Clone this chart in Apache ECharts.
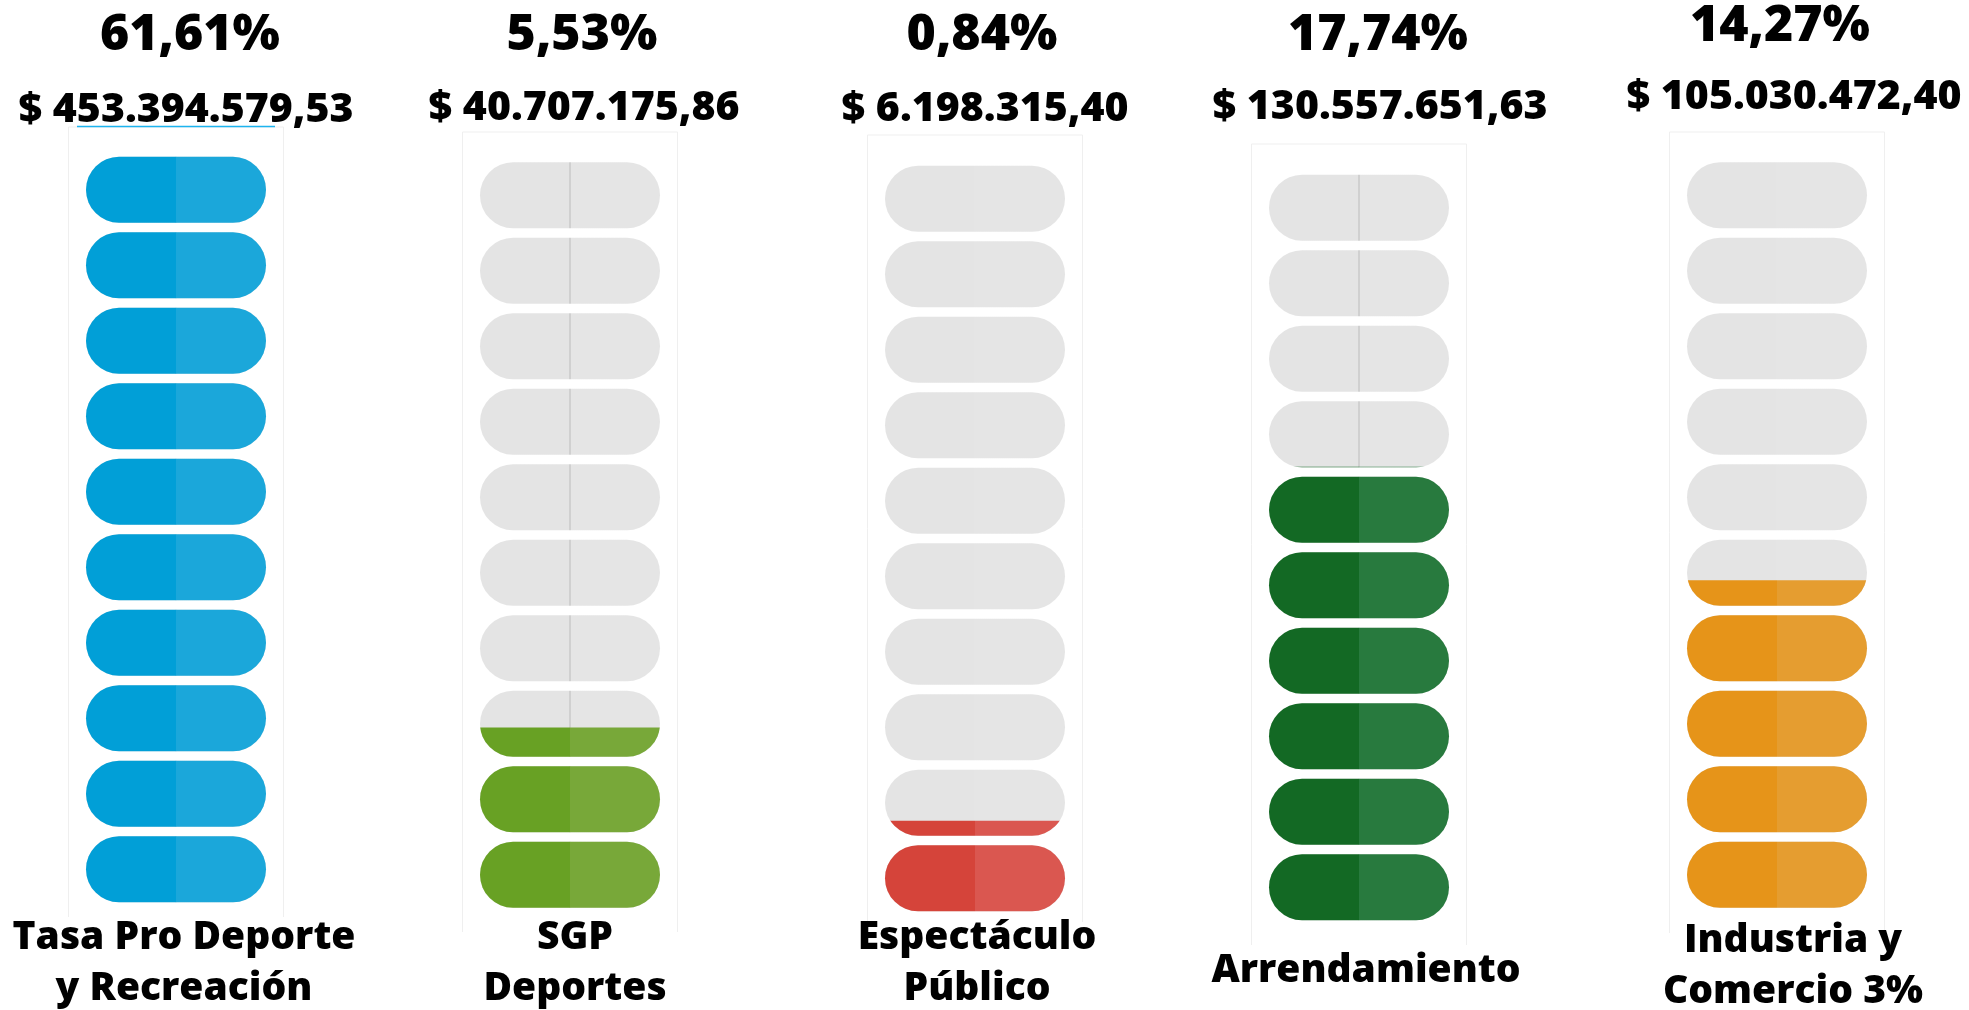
<!DOCTYPE html>
<html>
<head>
<meta charset="utf-8">
<title>Recaudo por fuente</title>
<script src="https://cdn.jsdelivr.net/npm/echarts@6/dist/echarts.min.js"></script>
<style>
  html, body { margin: 0; padding: 0; background: #ffffff; }
  #chart { width: 1969px; height: 1010px; }
</style>
</head>
<body>
<div id="chart"></div>
<script>
const categories = ['Tasa Pro Deporte\ny Recreación', 'SGP\nDeportes', 'Espectáculo\nPúblico', 'Arrendamiento', 'Industria y\nComercio 3%']
const shares = [61.61, 5.53, 0.84, 17.74, 14.27]
const amounts = [453394579.53, 40707175.86, 6198315.40, 130557651.63, 105030472.40]
// how many of the 10 pills are filled
const fillLevels = [10, 2.45, 1.26, 6.07, 4.40]
const pillCount = 10

const colors = [
  ['#019fd7', '#1ba7da'],
  ['#68a124', '#78a839'],
  ['#d5443a', '#da5750'],
  ['#136924', '#287a3e'],
  ['#e69419', '#e59d30']
]

// per column layout, px
const layout = [
  { cx: 176,  top: 152,   frame: [127, 917], pctX: 190,  pctY: 36, amtX: 186,  amtY: 110, labX: 184,  labY: 963, midLine: true },
  { cx: 570,  top: 157.5, frame: [132, 932], pctX: 582,  pctY: 36, amtX: 584,  amtY: 108, labX: 575,  labY: 963, midLine: true },
  { cx: 975,  top: 161,   frame: [135, 922], pctX: 982,  pctY: 36, amtX: 985,  amtY: 109, labX: 977,  labY: 963, midLine: false },
  { cx: 1359, top: 170,   frame: [144, 945], pctX: 1378, pctY: 36, amtX: 1380, amtY: 107, labX: 1366, labY: 971, midLine: true },
  { cx: 1777, top: 157.5, frame: [132, 933], pctX: 1780, pctY: 27, amtX: 1794, amtY: 97,  labX: 1793, labY: 966, midLine: false }
]

const pillPath = 'path://M33 0H147A33 33 0 0 1 147 66H33A33 33 0 0 1 33 0Z'
const font = '"Open Sans", "Noto Sans", sans-serif'

const fmtAmount = (v) => {
  const [int, dec] = v.toFixed(2).split('.')
  return '$ ' + int.replace(/\B(?=(\d{3})+(?!\d))/g, '.') + ',' + dec
}
const fmtShare = (v) => v.toFixed(2).replace('.', ',') + '%'

const split = (left, right) => ({
  type: 'linear', x: 0, y: 0, x2: 1, y2: 0,
  colorStops: [
    { offset: 0, color: left }, { offset: 0.5, color: left },
    { offset: 0.5, color: right }, { offset: 1, color: right }
  ]
})
const grayPill = (midLine) => ({
  type: 'linear', x: 0, y: 0, x2: 1, y2: 0,
  colorStops: [
    { offset: 0, color: '#e4e4e4' }, { offset: 0.497, color: '#e4e4e4' },
    { offset: 0.497, color: midLine ? '#d0d0d0' : '#e5e5e5' }, { offset: 0.503, color: midLine ? '#d0d0d0' : '#e5e5e5' },
    { offset: 0.503, color: '#e5e5e5' }, { offset: 1, color: '#e5e5e5' }
  ]
})

const grid = [], xAxis = [], yAxis = [], series = [], graphic = []

layout.forEach((c, i) => {
  grid.push({ left: c.cx - 107, top: c.top, width: 214, height: 755 })
  xAxis.push({ type: 'category', gridIndex: i, data: [categories[i]], show: false })
  yAxis.push({ type: 'value', gridIndex: i, min: 0, max: pillCount, show: false })

  const common = {
    type: 'pictorialBar',
    xAxisIndex: i,
    yAxisIndex: i,
    symbol: pillPath,
    symbolSize: [180, 66],
    symbolRepeat: pillCount,
    symbolMargin: '1!',
    symbolBoundingData: pillCount,
    symbolPosition: 'start',
    silent: true
  }
  series.push(Object.assign({}, common, { z: 1, itemStyle: { color: grayPill(c.midLine) }, data: [pillCount] }))
  series.push(Object.assign({}, common, { z: 2, symbolClip: true, itemStyle: { color: split(colors[i][0], colors[i][1]) }, data: [fillLevels[i]] }))

  graphic.push({
    type: 'polyline', silent: true, z: 0,
    shape: { points: [[c.cx - 107.5, c.frame[1]], [c.cx - 107.5, c.frame[0]], [c.cx + 107.5, c.frame[0]], [c.cx + 107.5, c.frame[1]]] },
    style: { fill: null, stroke: '#efefef', lineWidth: 1 }
  })
  graphic.push({
    type: 'text', x: c.pctX, y: c.pctY, z: 10,
    style: { text: fmtShare(shares[i]), font: '800 50px ' + font, fill: '#000', align: 'center', verticalAlign: 'middle' }
  })
  graphic.push({
    type: 'text', x: c.amtX, y: c.amtY, z: 10,
    style: { text: fmtAmount(amounts[i]), font: '800 41px ' + font, fill: '#000', align: 'center', verticalAlign: 'middle' }
  })
  graphic.push({
    type: 'text', x: c.labX, y: c.labY, z: 10,
    style: { text: categories[i], font: '800 39px ' + font, lineHeight: 51, fill: '#000', align: 'center', verticalAlign: 'middle' }
  })
})

// stray link underline under the first amount
graphic.push({
  type: 'line', silent: true, z: 10,
  shape: { x1: 77, y1: 126.5, x2: 275, y2: 126.5 },
  style: { stroke: '#1db4ef', lineWidth: 1.5 }
})

const chart = echarts.init(document.getElementById('chart'))
chart.setOption({
  animation: false,
  backgroundColor: '#ffffff',
  grid, xAxis, yAxis, series, graphic
})
</script>
</body>
</html>
